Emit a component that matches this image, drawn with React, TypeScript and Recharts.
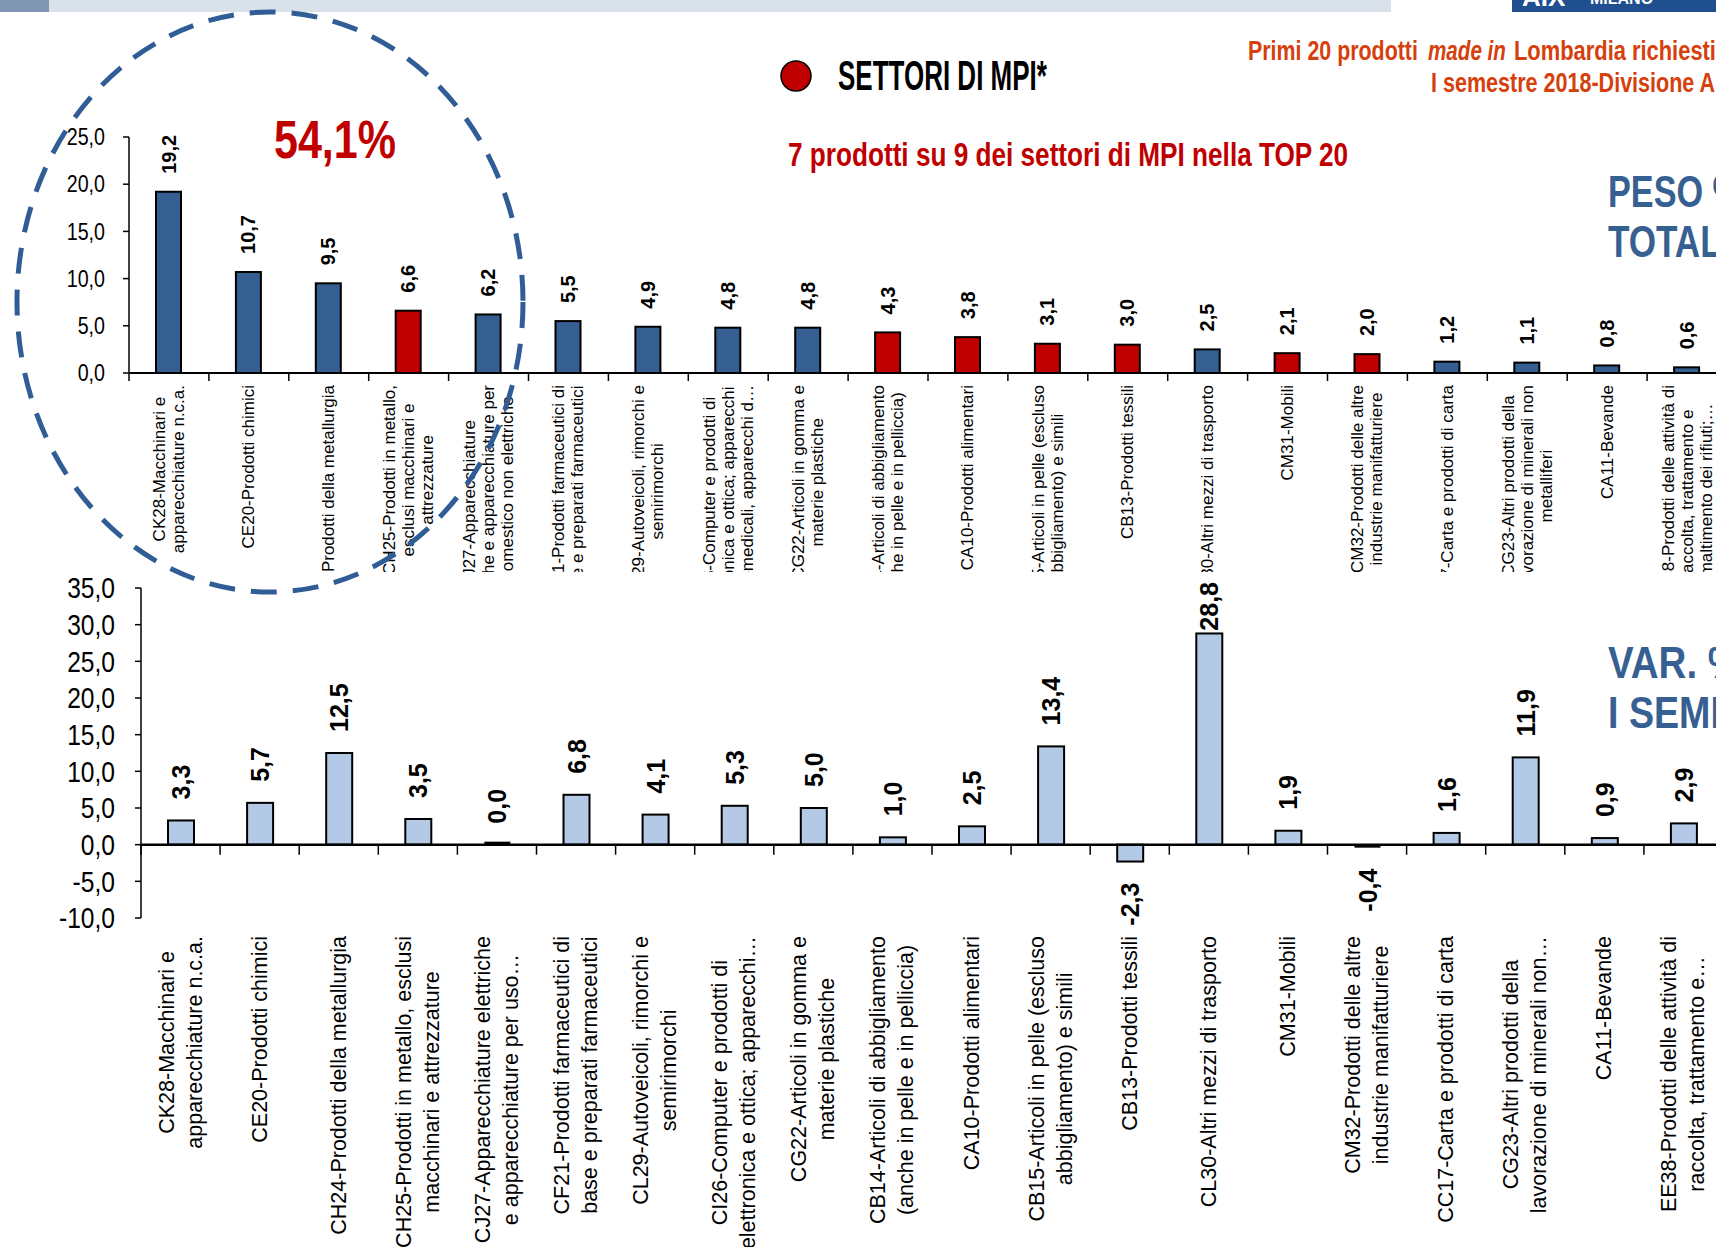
import React from "react";
import { BarChart, Bar, XAxis, YAxis, Cell, LabelList, ReferenceLine } from "recharts";

const codes = [
  "CK28", "CE20", "CH24", "CH25", "CJ27", "CF21", "CL29", "CI26", "CG22", "CB14",
  "CA10", "CB15", "CB13", "CL30", "CM31", "CM32", "CC17", "CG23", "CA11", "EE38",
];
// peso % sul totale
const pesoValues = [19.2, 10.7, 9.5, 6.6, 6.2, 5.5, 4.9, 4.8, 4.8, 4.3, 3.8, 3.1, 3.0, 2.5, 2.1, 2.0, 1.2, 1.1, 0.8, 0.6];
// var. % I semestre
const varValues = [3.3, 5.7, 12.5, 3.5, 0.0, 6.8, 4.1, 5.3, 5.0, 1.0, 2.5, 13.4, -2.3, 28.8, 1.9, -0.4, 1.6, 11.9, 0.9, 2.9];
const mpiSectors = [false, false, false, true, false, false, false, false, false, true, true, true, true, false, true, true, false, false, false, false];

const topLabels: string[][] = [
  ["CK28-Macchinari e", "apparecchiature n.c.a."],
  ["CE20-Prodotti chimici"],
  ["CH24-Prodotti della metallurgia"],
  ["CH25-Prodotti in metallo,", "esclusi macchinari e", "attrezzature"],
  ["CJ27-Apparecchiature", "elettriche e apparecchiature per", "uso domestico non elettriche"],
  ["CF21-Prodotti farmaceutici di", "base e preparati farmaceutici"],
  ["CL29-Autoveicoli, rimorchi e", "semirimorchi"],
  ["CI26-Computer e prodotti di", "elettronica e ottica; apparecchi", "elettromedicali, apparecchi d…"],
  ["CG22-Articoli in gomma e", "materie plastiche"],
  ["CB14-Articoli di abbigliamento", "(anche in pelle e in pelliccia)"],
  ["CA10-Prodotti alimentari"],
  ["CB15-Articoli in pelle (escluso", "abbigliamento) e simili"],
  ["CB13-Prodotti tessili"],
  ["CL30-Altri mezzi di trasporto"],
  ["CM31-Mobili"],
  ["CM32-Prodotti delle altre", "industrie manifatturiere"],
  ["CC17-Carta e prodotti di carta"],
  ["CG23-Altri prodotti della", "lavorazione di minerali non", "metalliferi"],
  ["CA11-Bevande"],
  ["EE38-Prodotti delle attività di", "raccolta, trattamento e", "smaltimento dei rifiuti;…"],
];

const bottomLabels: string[][] = [
  ["CK28-Macchinari e", "apparecchiature n.c.a."],
  ["CE20-Prodotti chimici"],
  ["CH24-Prodotti della metallurgia"],
  ["CH25-Prodotti in metallo, esclusi", "macchinari e attrezzature"],
  ["CJ27-Apparecchiature elettriche", "e apparecchiature per uso…"],
  ["CF21-Prodotti farmaceutici di", "base e preparati farmaceutici"],
  ["CL29-Autoveicoli, rimorchi e", "semirimorchi"],
  ["CI26-Computer e prodotti di", "elettronica e ottica; apparecchi…"],
  ["CG22-Articoli in gomma e", "materie plastiche"],
  ["CB14-Articoli di abbigliamento", "(anche in pelle e in pelliccia)"],
  ["CA10-Prodotti alimentari"],
  ["CB15-Articoli in pelle (escluso", "abbigliamento) e simili"],
  ["CB13-Prodotti tessili"],
  ["CL30-Altri mezzi di trasporto"],
  ["CM31-Mobili"],
  ["CM32-Prodotti delle altre", "industrie manifatturiere"],
  ["CC17-Carta e prodotti di carta"],
  ["CG23-Altri prodotti della", "lavorazione di minerali non…"],
  ["CA11-Bevande"],
  ["EE38-Prodotti delle attività di", "raccolta, trattamento e…"],
];

const pesoTicks = [0, 5, 10, 15, 20, 25];
const varTicks = [-10, -5, 0, 5, 10, 15, 20, 25, 30, 35];

const pesoData = codes.map((code, i) => ({ code, value: pesoValues[i], mpi: mpiSectors[i] }));
const varData = codes.map((code, i) => ({ code, value: varValues[i] }));

const SANS = "'Liberation Sans', Arial, sans-serif";
const BLUE = "#355e91";
const RED = "#c00000";
const LIGHT = "#b3c9e5";
const ORANGE = "#d5400c";
const TITLE_BLUE = "#376092";

// layout
const TOP_LEFT = 129;
const TOP_PLOT_W = 1598;
const TOP_PLOT_H = 236;
const BOT_LEFT = 141;
const BOT_PLOT_W = 1582;
const BOT_PLOT_H = 330;

const fmt = (v: number) => v.toFixed(1).replace(".", ",");

let ctx: CanvasRenderingContext2D | null = null;
function measure(text: string, font: string) {
  if (!ctx) ctx = document.createElement("canvas").getContext("2d");
  if (!ctx) return text.length * 8;
  ctx.font = font;
  return ctx.measureText(text).width;
}

// horizontally condensed bold text, squeezed to a given width
function FitText(props: {
  x: number;
  y: number;
  width: number;
  size: number;
  color: string;
  italic?: boolean;
  children: string;
}) {
  const { x, y, width, size, color, italic, children } = props;
  const natural = measure(children, `${italic ? "italic " : ""}bold ${size}px 'Liberation Sans'`);
  const sx = natural > 0 ? width / natural : 1;
  return (
    <text
      transform={`translate(${x},${y}) scale(${sx},1)`}
      fontSize={size}
      fontWeight="bold"
      fontStyle={italic ? "italic" : "normal"}
      fontFamily={SANS}
      fill={color}
    >
      {children}
    </text>
  );
}

type TickOpts = {
  lines: string[][];
  fontSize: number;
  lineHeight: number;
  labelTop: number;
  markTop: number;
  markLen: number;
  band: number;
};

function makeTick(o: TickOpts) {
  return (props: any) => {
    const { x, y, payload } = props;
    const idx = codes.indexOf(payload.value);
    const ls = o.lines[idx] ?? [];
    const font = `${o.fontSize}px 'Liberation Sans'`;
    const maxLen = Math.max(...ls.map((l) => measure(l, font)));
    const bx = x - o.band / 2;
    return (
      <g>
        <line x1={bx} x2={bx} y1={y + o.markTop} y2={y + o.markTop + o.markLen} stroke="#000" strokeWidth={1.5} />
        <g transform={`translate(${x},${y + o.labelTop}) rotate(-90)`}>
          {ls.map((l, i) => (
            <text
              key={i}
              x={-maxLen / 2}
              y={(i - (ls.length - 1) / 2) * o.lineHeight}
              textAnchor="middle"
              dominantBaseline="central"
              fontSize={o.fontSize}
              fontFamily={SANS}
              fill="#000"
            >
              {l}
            </text>
          ))}
        </g>
      </g>
    );
  };
}

// condensed numbers on the value axes
function makeYTick(fontSize: number) {
  return (props: any) => {
    const { x, y, payload } = props;
    return (
      <text
        transform={`translate(${x},${y}) scale(0.82,1)`}
        textAnchor="end"
        dominantBaseline="central"
        fontSize={fontSize}
        fontFamily={SANS}
        fill="#000"
      >
        {fmt(Number(payload.value))}
      </text>
    );
  };
}

function makeValueLabel(fontSize: number, gap: number, minTop: number) {
  return (props: any) => {
    const { x, y, width, height, value } = props;
    const cx = x + width / 2;
    const top = Math.min(y, y + height);
    const bottom = Math.max(y, y + height);
    const text = fmt(Number(value));
    const len = measure(text, `bold ${fontSize}px 'Liberation Sans'`);
    if (Number(value) < 0) {
      return (
        <text
          transform={`translate(${cx},${bottom + gap}) rotate(-90)`}
          textAnchor="end"
          dominantBaseline="central"
          fontSize={fontSize}
          fontWeight="bold"
          fontFamily={SANS}
          fill="#000"
        >
          {text}
        </text>
      );
    }
    let start = top - gap;
    if (start - len < minTop) start = minTop + len;
    return (
      <text
        transform={`translate(${cx},${start}) rotate(-90)`}
        textAnchor="start"
        dominantBaseline="central"
        fontSize={fontSize}
        fontWeight="bold"
        fontFamily={SANS}
        fill="#000"
      >
        {text}
      </text>
    );
  };
}

const BarShape = (props: any) => {
  const { x, y, width, height, fill, payload } = props;
  const top = Math.min(y, y + height);
  const h = Math.abs(height);
  if (h < 3.5) {
    const neg = payload && payload.value < 0;
    const hh = Math.max(h, 3);
    return <rect x={x} y={neg ? top : top + h - hh} width={width} height={hh} fill="#000" />;
  }
  return <rect x={x} y={top} width={width} height={h} fill={fill} stroke="#000" strokeWidth={2} />;
};

const topTick = makeTick({
  lines: topLabels,
  fontSize: 17,
  lineHeight: 19,
  labelTop: 12,
  markTop: 0,
  markLen: 8,
  band: TOP_PLOT_W / codes.length,
});

const bottomTick = makeTick({
  lines: bottomLabels,
  fontSize: 21.5,
  lineHeight: 28,
  labelTop: 18,
  markTop: -(BOT_PLOT_H * 10) / 45,
  markLen: 10,
  band: BOT_PLOT_W / codes.length,
});

export default function App() {
  return (
    <div
      style={{
        position: "absolute",
        left: 0,
        top: 0,
        width: 1716,
        height: 1247,
        overflow: "hidden",
        background: "#fff",
      }}
    >
      <div style={{ position: "absolute", left: 0, top: 0, width: 1716, height: 572, overflow: "hidden" }}>
        <BarChart
          width={TOP_LEFT + TOP_PLOT_W}
          height={600}
          data={pesoData}
          margin={{ top: 137, right: 0, left: 0, bottom: 0 }}
        >
          <XAxis
            dataKey="code"
            interval={0}
            height={600 - 137 - TOP_PLOT_H}
            axisLine={{ stroke: "#000", strokeWidth: 2 }}
            tickLine={false}
            tickSize={0}
            tickMargin={0}
            tick={topTick}
          />
          <YAxis
            width={TOP_LEFT}
            domain={[0, 25]}
            ticks={pesoTicks}
            interval={0}
            axisLine={{ stroke: "#000", strokeWidth: 1.5 }}
            tickLine={{ stroke: "#000", strokeWidth: 1.5 }}
            tickSize={6}
            tickMargin={18}
            tick={makeYTick(24)}
          />
          <Bar dataKey="value" barSize={25} isAnimationActive={false} shape={BarShape}>
            {pesoData.map((d) => (
              <Cell key={d.code} fill={d.mpi ? RED : BLUE} />
            ))}
            <LabelList dataKey="value" content={makeValueLabel(20, 18, 0)} />
          </Bar>
        </BarChart>
      </div>

      <div style={{ position: "absolute", left: 0, top: 575, width: 1716, height: 672, overflow: "hidden" }}>
        <BarChart
          width={BOT_LEFT + BOT_PLOT_W}
          height={672}
          data={varData}
          margin={{ top: 13, right: 0, left: 0, bottom: 0 }}
        >
          <XAxis
            dataKey="code"
            interval={0}
            height={672 - 13 - BOT_PLOT_H}
            axisLine={false}
            tickLine={false}
            tickSize={0}
            tickMargin={0}
            tick={bottomTick}
          />
          <YAxis
            width={BOT_LEFT}
            domain={[-10, 35]}
            ticks={varTicks}
            interval={0}
            axisLine={{ stroke: "#000", strokeWidth: 1.5 }}
            tickLine={{ stroke: "#000", strokeWidth: 1.5 }}
            tickSize={6}
            tickMargin={20}
            tick={makeYTick(30)}
          />
          <Bar dataKey="value" barSize={26} fill={LIGHT} isAnimationActive={false} shape={BarShape}>
            <LabelList dataKey="value" content={makeValueLabel(25, 21, 7)} />
          </Bar>
          <ReferenceLine y={0} stroke="#000" strokeWidth={2.5} />
        </BarChart>
      </div>

      <svg
        width={1716}
        height={1247}
        style={{ position: "absolute", left: 0, top: 0, pointerEvents: "none" }}
      >
        <rect x={0} y={0} width={49} height={12} fill="#8196b2" />
        <rect x={49} y={0} width={1342} height={12} fill="#d9e1ea" />
        <rect x={1512} y={0} width={204} height={12} fill="#1f4f8f" />
        <text x={1522} y={6} fontSize={26} fontWeight="bold" fontFamily={SANS} fill="#fff">
          AIX
        </text>
        <text x={1590} y={4} fontSize={16} fontWeight="bold" fontFamily={SANS} fill="#fff">
          MILANO
        </text>

        <ellipse cx={796} cy={76} rx={15} ry={15} fill={RED} stroke="#000" strokeWidth={1.5} />
        <FitText x={838} y={90} width={209} size={43} color="#000">SETTORI DI MPI*</FitText>

        <FitText x={1248} y={60} width={170} size={28} color={ORANGE}>Primi 20 prodotti</FitText>
        <FitText x={1428} y={60} width={78} size={28} color={ORANGE} italic>made in</FitText>
        <FitText x={1514} y={60} width={202} size={28} color={ORANGE}>Lombardia richiesti</FitText>
        <FitText x={1431} y={92} width={285} size={28} color={ORANGE}>I semestre 2018-Divisione A</FitText>

        <FitText x={274} y={158} width={122} size={53} color={RED}>54,1%</FitText>
        <FitText x={788} y={166} width={561} size={33} color={RED}>
          7 prodotti su 9 dei settori di MPI nella TOP 20
        </FitText>

        <FitText x={1608} y={207} width={135} size={44} color={TITLE_BLUE}>PESO %</FitText>
        <FitText x={1608} y={257} width={137} size={44} color={TITLE_BLUE}>TOTALE</FitText>
        <FitText x={1608} y={678} width={134} size={44} color={TITLE_BLUE}>VAR. %</FitText>
        <FitText x={1608} y={728} width={228} size={44} color={TITLE_BLUE}>I SEMESTRE</FitText>

        <ellipse
          cx={270}
          cy={302}
          rx={253}
          ry={290}
          fill="none"
          stroke="#305d95"
          strokeWidth={5}
          strokeDasharray="26 16"
        />
      </svg>
    </div>
  );
}
